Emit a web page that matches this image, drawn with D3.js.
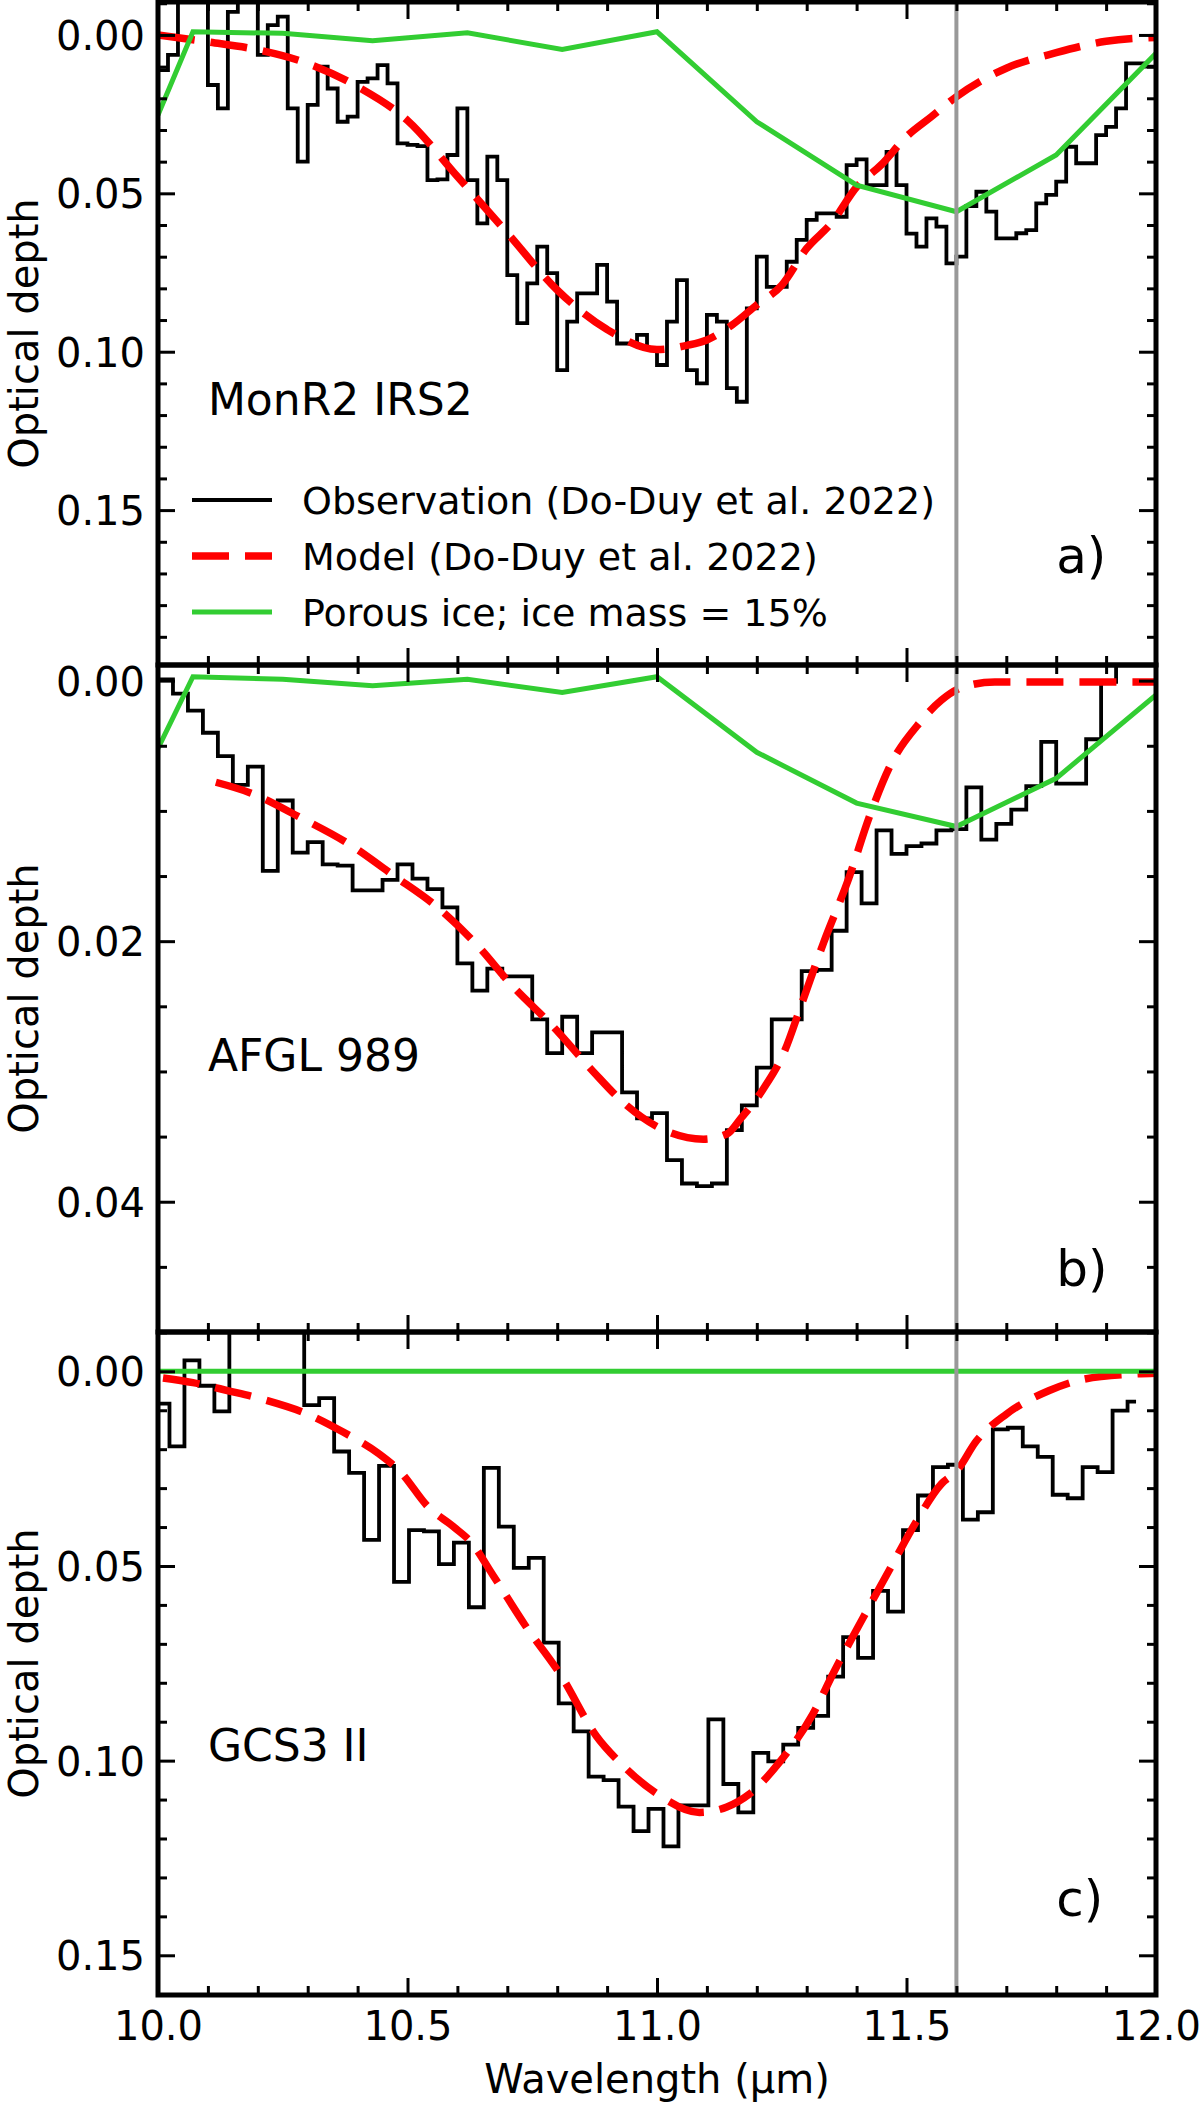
<!DOCTYPE html>
<html>
<head>
<meta charset="utf-8">
<script src="https://cdn.jsdelivr.net/npm/d3@7"></script>
<style>
  body { margin: 0; background: #fff; }
</style>
</head>
<body>
<div id="main"></div>
<script>
// ---- data ----

// panel a: MonR2 IRS2, bins of 0.02 um
var obsA_wave = [10.00,10.02,10.04,10.06,10.08,10.10,10.12,10.14,10.16,10.18,
  10.20,10.22,10.24,10.26,10.28,10.30,10.32,10.34,10.36,10.38,
  10.40,10.42,10.44,10.46,10.48,10.50,10.52,10.54,10.56,10.58,
  10.60,10.62,10.64,10.66,10.68,10.70,10.72,10.74,10.76,10.78,
  10.80,10.82,10.84,10.86,10.88,10.90,10.92,10.94,10.96,10.98,
  11.00,11.02,11.04,11.06,11.08,11.10,11.12,11.14,11.16,11.18,
  11.20,11.22,11.24,11.26,11.28,11.30,11.32,11.34,11.36,11.38,
  11.40,11.42,11.44,11.46,11.48,11.50,11.52,11.54,11.56,11.58,
  11.60,11.62,11.64,11.66,11.68,11.70,11.72,11.74,11.76,11.78,
  11.80,11.82,11.84,11.86,11.88,11.90,11.92,11.94,11.96,11.98];
var obsA_end = 12.00;
var obsA_tau = [0.0111,0.0063,-0.015,-0.015,-0.015,0.0158,0.0232,-0.0073,-0.015,-0.015,
  0.0063,-0.0031,-0.0058,0.0232,0.0400,0.0221,0.0100,0.0169,0.0274,0.0258,
  0.0148,0.0137,0.0095,0.0153,0.0342,0.0347,0.0351,0.0458,0.0456,0.0379,
  0.0232,0.0458,0.0595,0.0384,0.0458,0.0758,0.0910,0.0784,0.0668,0.0752,
  0.1058,0.0905,0.0816,0.0816,0.0726,0.0842,0.0974,0.0974,0.0947,0.0992,
  0.1042,0.0905,0.0774,0.1058,0.1100,0.0884,0.0905,0.1115,0.1158,0.0863,
  0.0700,0.0795,0.0795,0.0716,0.0647,0.0584,0.0563,0.0563,0.0574,0.0411,
  0.0393,0.0474,0.0474,0.0369,0.0474,0.0627,0.0668,0.0579,0.0605,0.0721,
  0.0700,0.0540,0.0495,0.0558,0.0642,0.0642,0.0626,0.0616,0.0532,0.0505,
  0.0463,0.0353,0.0405,0.0405,0.0316,0.0290,0.0232,0.0090,0.0090,0.0100];
var modelA_wave = [10.0,10.1,10.2,10.3,10.4,10.5,10.6,10.7,10.8,10.9,11.0,11.06,11.1,11.15,
  11.2,11.25,11.3,11.35,11.4,11.45,11.5,11.55,11.6,11.7,11.8,11.9,12.0];
var modelA_tau = [0.0,0.0022,0.0047,0.009,0.0163,0.027,0.0447,0.0625,0.0805,0.093,0.0993,0.098,0.0963,0.0916,
  0.0852,0.079,0.0674,0.0593,0.048,0.0409,0.0321,0.0258,0.0195,0.0105,0.0056,0.002,0.0008];
var iceA_wave = [10.0,10.07,10.25,10.43,10.62,10.81,11.0,11.2,11.4,11.6,11.8,12.0];
var iceA_tau = [0.0253,-0.001,-0.0005,0.0018,-0.0007,0.0046,-0.001,0.0274,0.0474,0.0558,0.0379,0.0058];

// panel b: AFGL 989, bins of 0.03 um
var obsB_wave = [10.00,10.03,10.06,10.09,10.12,10.15,10.18,10.21,10.24,10.27,
  10.30,10.33,10.36,10.39,10.42,10.45,10.48,10.51,10.54,10.57,
  10.60,10.63,10.66,10.69,10.72,10.75,10.78,10.81,10.84,10.87,
  10.90,10.93,10.96,10.99,11.02,11.05,11.08,11.11,11.14,11.17,
  11.20,11.23,11.26,11.29,11.32,11.35,11.38,11.41,11.44,11.47,
  11.50,11.53,11.56,11.59,11.62,11.65,11.68,11.71,11.74,11.77,
  11.80,11.83,11.86,11.89,11.92];
var obsB_end = 11.95;
var obsB_tau = [-0.0001,0.0010,0.0023,0.0040,0.0058,0.0080,0.0066,0.0146,0.0092,0.0132,
  0.0124,0.0141,0.0142,0.0161,0.0161,0.0153,0.0141,0.0152,0.0160,0.0174,
  0.0217,0.0238,0.0221,0.0227,0.0227,0.0260,0.0286,0.0258,0.0286,0.0270,
  0.0270,0.0316,0.0336,0.0332,0.0368,0.0386,0.0388,0.0386,0.0345,0.0326,
  0.0297,0.0260,0.0260,0.0223,0.0222,0.0192,0.0147,0.0171,0.0115,0.0133,
  0.0127,0.0125,0.0115,0.0114,0.0082,0.0122,0.0110,0.0099,0.0081,0.0047,
  0.0079,0.0079,0.0045,0.0001,-0.0015];
var modelB_wave = [10.116,10.184,10.285,10.385,10.47,10.557,10.642,10.707,10.793,10.872,10.936,11.014,
  11.093,11.14,11.168,11.212,11.255,11.29,11.334,11.384,11.427,11.469,11.527,11.57,11.613,11.677,12.0];
var modelB_tau = [0.0078,0.0086,0.0105,0.0126,0.0149,0.0173,0.0204,0.0233,0.0266,0.0300,0.0325,0.0345,
  0.0352,0.0348,0.0336,0.0314,0.0285,0.0248,0.0201,0.0152,0.0103,0.0064,0.0032,0.0015,0.0005,0.0001,0.0001];
var iceB_wave = [10.0,10.07,10.25,10.43,10.62,10.81,11.0,11.2,11.4,11.6,11.8,12.0];
var iceB_tau = [0.0052,-0.0003,-0.0001,0.0004,-0.0001,0.0009,-0.0003,0.0055,0.0094,0.0112,0.0075,0.0011];

// panel c: GCS3 II, bins of 0.03 um
var obsC_wave = [9.993,10.023,10.053,10.083,10.113,10.143,10.173,10.203,10.233,10.263,
  10.293,10.323,10.353,10.383,10.413,10.443,10.473,10.503,10.533,10.563,
  10.593,10.623,10.653,10.683,10.713,10.743,10.773,10.803,10.833,10.863,
  10.893,10.923,10.953,10.983,11.013,11.043,11.073,11.103,11.133,11.163,
  11.193,11.223,11.253,11.283,11.313,11.343,11.373,11.403,11.433,11.463,
  11.493,11.523,11.553,11.583,11.613,11.643,11.673,11.703,11.733,11.763,
  11.793,11.823,11.853,11.883,11.913,11.943];
var obsC_end = 11.96;
var obsC_tau = [0.0083,0.0193,-0.0028,0.0037,0.0103,-0.02,-0.02,-0.02,-0.02,-0.02,
  0.0087,0.0069,0.0206,0.0261,0.0433,0.0243,0.0541,0.0408,0.0411,0.0495,
  0.0440,0.0606,0.0248,0.0399,0.0505,0.0479,0.0697,0.0853,0.0925,0.1041,
  0.1050,0.1118,0.1181,0.1124,0.1220,0.1115,0.1115,0.0894,0.1060,0.1133,
  0.0980,0.1002,0.0959,0.0916,0.0885,0.0784,0.0683,0.0736,0.0564,0.0617,
  0.0408,0.0319,0.0246,0.0240,0.0381,0.0362,0.0149,0.0145,0.0193,0.0220,
  0.0317,0.0326,0.0246,0.0259,0.0101,0.0078];
var modelC_wave = [10.01,10.07,10.141,10.213,10.3,10.371,10.442,10.485,10.542,10.592,10.628,10.671,
  10.735,10.807,10.878,10.929,11.0,11.085,11.14,11.184,11.248,11.312,11.355,11.413,11.47,11.52,
  11.57,11.6,11.64,11.7,11.785,11.856,11.956,12.0];
var modelC_tau = [0.0017,0.0029,0.005,0.0073,0.011,0.0156,0.0211,0.0257,0.0349,0.0399,0.044,0.0523,
  0.0651,0.078,0.0936,0.1009,0.1085,0.1133,0.1119,0.1087,0.100,0.0881,0.0771,0.0633,0.050,0.0385,
  0.0289,0.0257,0.0179,0.011,0.005,0.002,0.0007,0.0005];
var iceC_wave = [10.0,12.0];
var iceC_tau = [0.0,0.0];

var sources = ["MonR2 IRS2", "AFGL 989", "GCS3 II"];
var tags = ["a)", "b)", "c)"];
var legendLabels = ["Observation (Do-Duy et al. 2022)", "Model (Do-Duy et al. 2022)",
  "Porous ice; ice mass = 15%"];
var xMajor = [10.0, 10.5, 11.0, 11.5, 12.0];
var yMajorA = [0.00, 0.05, 0.10, 0.15];
var yMajorB = [0.00, 0.02, 0.04];
var yMajorC = [0.00, 0.05, 0.10, 0.15];
var markerWave = 11.6;

// ---- layout ----
var W = 1200, H = 2102;
var left = 158, right = 1156;
var font = "DejaVu Sans";
var obsColor = "black", modelColor = "#ff0000", iceColor = "#32cd32", markColor = "#999999";
var obsWidth = 3.8, modelWidth = 7.5, iceWidth = 5;

function transform(x, y) {
  return "translate(" + x + "," + y + ")";
}
function pairs(w, t) {
  return w.map(function(d, i) { return [d, t[i]]; });
}
function steps(w, t, end) {
  var p = pairs(w, t);
  p.push([end, t[t.length - 1]]);
  return p;
}
function minorTicks(lo, hi, step, major) {
  return d3.range(Math.ceil(lo / step - 1e-6), Math.floor(hi / step + 1e-6) + 1)
    .map(function(k) { return +(k * step).toFixed(4); })
    .filter(function(v) { return major.every(function(m) { return Math.abs(m - v) > 1e-6; }); });
}

var panels = [
  { top: 2, bottom: 665, domain: [-0.0104, 0.1989], major: yMajorA, minorStep: 0.01,
    obs: steps(obsA_wave, obsA_tau, obsA_end), model: pairs(modelA_wave, modelA_tau),
    ice: pairs(iceA_wave, iceA_tau), nameY: 0.12, tagY: 0.17 },
  { top: 665, bottom: 1332, domain: [-0.0012, 0.05], major: yMajorB, minorStep: 0.005,
    obs: steps(obsB_wave, obsB_tau, obsB_end), model: pairs(modelB_wave, modelB_tau),
    ice: pairs(iceB_wave, iceB_tau), nameY: 0.03, tagY: 0.0465 },
  { top: 1332, bottom: 1995, domain: [-0.0101, 0.1602], major: yMajorC, minorStep: 0.01,
    obs: steps(obsC_wave, obsC_tau, obsC_end), model: pairs(modelC_wave, modelC_tau),
    ice: pairs(iceC_wave, iceC_tau), nameY: 0.10, tagY: 0.14 }
];

var svg = d3.select("#main").append("svg")
  .attr("width", W).attr("height", H)
  .attr("font-family", font);
svg.append("rect").attr("width", W).attr("height", H).attr("fill", "#fff");

var x = d3.scaleLinear().domain([10, 12]).range([left, right]);
var xMinor = minorTicks(10, 12, 0.1, xMajor);

function styleAxis(g) {
  g.select(".domain").remove();
  g.selectAll(".tick line").attr("stroke", "black").attr("stroke-width", 3);
  g.selectAll(".tick text").attr("font-family", font).attr("font-size", 40).attr("fill", "black");
  g.attr("font-family", font);
}

panels.forEach(function(p, i) {
  var y = d3.scaleLinear().domain(p.domain).range([p.top, p.bottom]);
  var yMinor = minorTicks(p.domain[0], p.domain[1], p.minorStep, p.major);
  var last = i === panels.length - 1;

  var clipId = "clip" + i;
  svg.append("clipPath").attr("id", clipId).append("rect")
    .attr("x", left).attr("y", p.top).attr("width", right - left).attr("height", p.bottom - p.top);

  var plot = svg.append("g").attr("clip-path", "url(#" + clipId + ")");

  var stepLine = d3.line().x(function(d) { return x(d[0]); }).y(function(d) { return y(d[1]); })
    .curve(d3.curveStepAfter);
  var smooth = d3.line().x(function(d) { return x(d[0]); }).y(function(d) { return y(d[1]); })
    .curve(d3.curveMonotoneX);
  var straight = d3.line().x(function(d) { return x(d[0]); }).y(function(d) { return y(d[1]); });

  plot.append("path").datum(p.obs).attr("d", stepLine)
    .attr("fill", "none").attr("stroke", obsColor).attr("stroke-width", obsWidth);
  plot.append("path").datum(p.model).attr("d", smooth)
    .attr("fill", "none").attr("stroke", modelColor).attr("stroke-width", modelWidth)
    .attr("stroke-dasharray", "37,16");
  plot.append("path").datum(p.ice).attr("d", straight)
    .attr("fill", "none").attr("stroke", iceColor).attr("stroke-width", iceWidth);
  plot.append("line")
    .attr("x1", x(markerWave)).attr("x2", x(markerWave))
    .attr("y1", p.top).attr("y2", p.bottom)
    .attr("stroke", markColor).attr("stroke-width", 4);

  // ticks pointing inward on all four sides
  svg.append("g").attr("transform", transform(left, 0))
    .call(d3.axisLeft(y).tickValues(p.major).tickSizeInner(-17).tickSizeOuter(0)
      .tickPadding(13).tickFormat(d3.format(".2f")))
    .call(styleAxis)
    .selectAll(".tick text").attr("dy", "0.36em");
  svg.append("g").attr("transform", transform(left, 0))
    .call(d3.axisLeft(y).tickValues(yMinor).tickSizeInner(-9).tickSizeOuter(0).tickFormat(""))
    .call(styleAxis);
  svg.append("g").attr("transform", transform(right, 0))
    .call(d3.axisRight(y).tickValues(p.major).tickSizeInner(-17).tickSizeOuter(0).tickFormat(""))
    .call(styleAxis);
  svg.append("g").attr("transform", transform(right, 0))
    .call(d3.axisRight(y).tickValues(yMinor).tickSizeInner(-9).tickSizeOuter(0).tickFormat(""))
    .call(styleAxis);
  svg.append("g").attr("transform", transform(0, p.top))
    .call(d3.axisTop(x).tickValues(xMajor).tickSizeInner(-17).tickSizeOuter(0).tickFormat(""))
    .call(styleAxis);
  svg.append("g").attr("transform", transform(0, p.top))
    .call(d3.axisTop(x).tickValues(xMinor).tickSizeInner(-9).tickSizeOuter(0).tickFormat(""))
    .call(styleAxis);
  svg.append("g").attr("transform", transform(0, p.bottom))
    .call(d3.axisBottom(x).tickValues(xMajor).tickSizeInner(-17).tickSizeOuter(0).tickPadding(17)
      .tickFormat(last ? d3.format(".1f") : ""))
    .call(styleAxis);
  svg.append("g").attr("transform", transform(0, p.bottom))
    .call(d3.axisBottom(x).tickValues(xMinor).tickSizeInner(-9).tickSizeOuter(0).tickFormat(""))
    .call(styleAxis);

  // frame
  svg.append("rect")
    .attr("x", left).attr("y", p.top).attr("width", right - left).attr("height", p.bottom - p.top)
    .attr("fill", "none").attr("stroke", "black").attr("stroke-width", 5);

  svg.append("text")
    .attr("transform", transform(38, (p.top + p.bottom) / 2) + " rotate(-90)")
    .attr("text-anchor", "middle").attr("font-size", 40).attr("fill", "black")
    .text("Optical depth");

  svg.append("text").attr("x", x(10.1)).attr("y", y(p.nameY))
    .attr("font-size", 44).attr("fill", "black").text(sources[i]);
  svg.append("text").attr("x", x(11.8)).attr("y", y(p.tagY))
    .attr("font-size", 50).attr("fill", "black").text(tags[i]);

  if (i === 0) {
    var rows = [
      { stroke: obsColor, width: obsWidth, dash: null },
      { stroke: modelColor, width: modelWidth, dash: "37,16" },
      { stroke: iceColor, width: iceWidth, dash: null }
    ];
    var leg = svg.append("g").attr("transform", transform(192, 500));
    rows.forEach(function(r, k) {
      var row = leg.append("g").attr("transform", transform(0, k * 56));
      row.append("line").attr("x1", 0).attr("x2", 80).attr("y1", 0).attr("y2", 0)
        .attr("stroke", r.stroke).attr("stroke-width", r.width)
        .attr("stroke-dasharray", r.dash);
      row.append("text").attr("x", 110).attr("y", 14)
        .attr("font-size", 38).attr("fill", "black").text(legendLabels[k]);
    });
  }
});

svg.append("text").attr("x", (left + right) / 2).attr("y", 2093)
  .attr("text-anchor", "middle").attr("font-size", 40).attr("fill", "black")
  .text("Wavelength (µm)");
</script>
</body>
</html>
